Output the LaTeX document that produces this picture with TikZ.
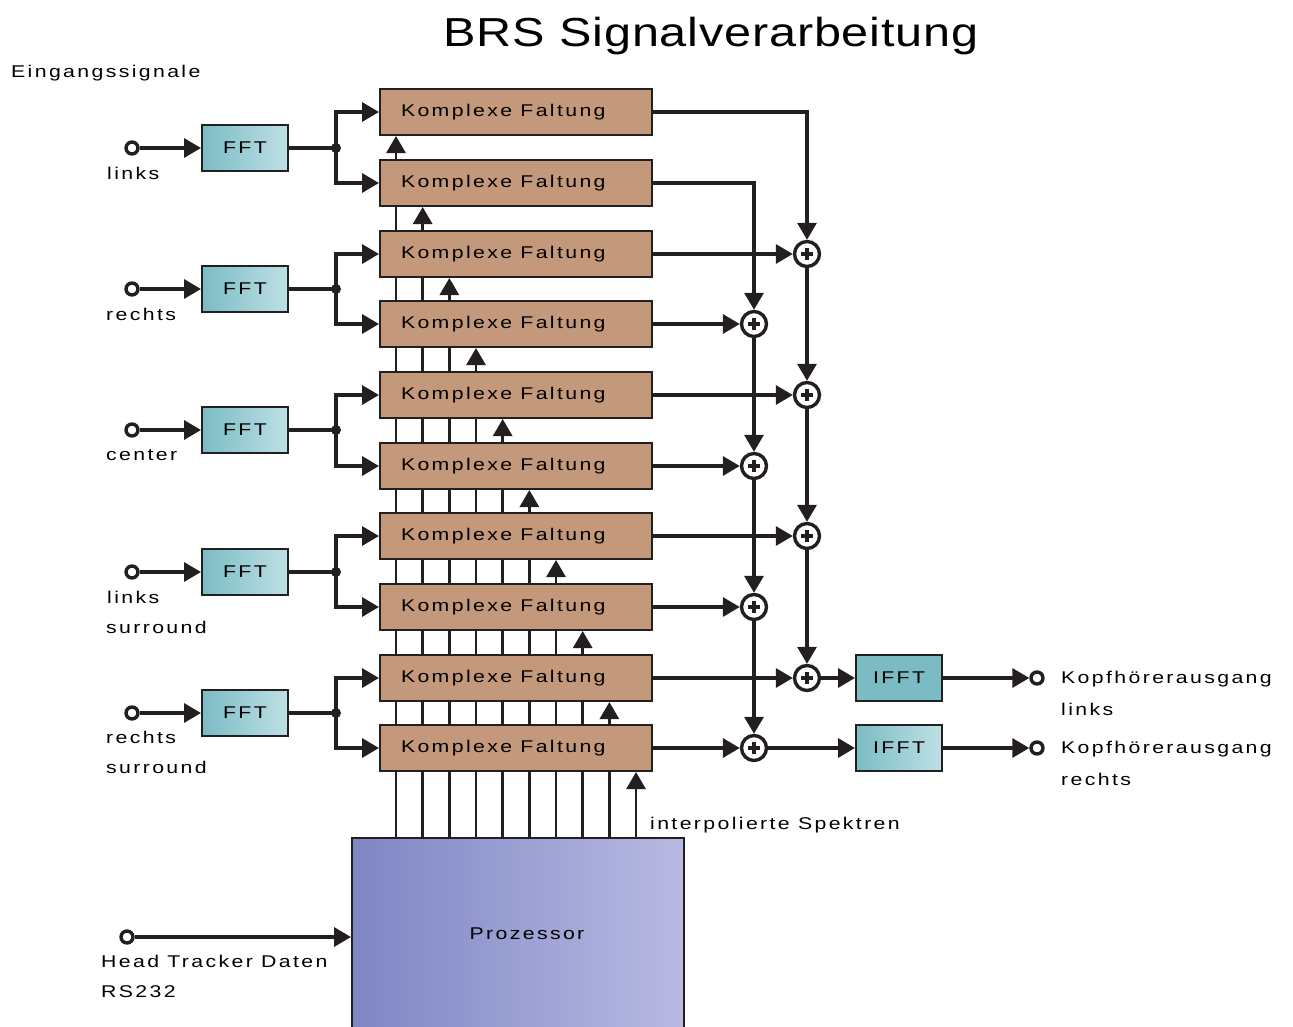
\documentclass[tikz,border=0pt]{standalone}
\usepackage{fontspec}
\setmainfont{Liberation Sans}
\newfontfamily\labfont[FakeStretch=1.25,LetterSpace=14]{Liberation Sans}
\newfontfamily\titlefont[FakeStretch=1.2,LetterSpace=2]{Liberation Sans}
\usetikzlibrary{arrows.meta,calc}
\definecolor{kfcol}{HTML}{C4987A}
\definecolor{tealL}{HTML}{7BBCC4}
\definecolor{tealR}{HTML}{BEE0E5}
\definecolor{procL}{HTML}{7E86C4}
\definecolor{procR}{HTML}{B8BAE2}
\definecolor{ink}{HTML}{231F20}
\pgfdeclarelayer{bg}
\pgfsetlayers{bg,main}
\begin{document}
\begin{tikzpicture}[x=1pt,y=-1pt,
  wire/.style={draw=ink,line width=3.4pt},
  arr/.style={wire,-{Triangle[length=17pt,width=19pt]}},
  kf/.style={draw=ink,line width=2pt,fill=kfcol,rectangle,
    inner xsep=21pt,inner ysep=0pt,
    minimum height=46pt,font=\labfont\fontsize{17}{20}\selectfont},
  fftbox/.style={draw=ink,line width=2pt,rectangle,left color=tealL,right color=tealR,
    minimum width=86pt,minimum height=46pt,inner sep=0pt,
    font=\labfont\fontsize{17}{20}\selectfont},
  port/.style={circle,draw=ink,line width=3.4pt,fill=white,minimum size=12pt,inner sep=0pt},
  dot/.style={circle,fill=ink,minimum size=10pt,inner sep=0pt},
  adder/.style={circle,draw=ink,line width=3.4pt,fill=white,minimum size=25pt,inner sep=0pt,
    path picture={\draw[ink,line width=3.4pt]
      ($(path picture bounding box.center)+(-6,0)$) -- ++(12,0)
      ($(path picture bounding box.center)+(0,-6)$) -- ++(0,12);}},
  lab/.style={anchor=west,inner sep=0pt,yshift=-1.5pt,font=\labfont\fontsize{17}{20}\selectfont}
]
\useasboundingbox (0,0) rectangle (1293,1026);

% title
\node[font=\titlefont\fontsize{40.5}{44}\selectfont,inner sep=0pt] (title) at (711,36) {BRS Signalverarbeitung};
\node[lab] (eing) at (11,72) {Eingangssignale};

% convolution blocks
\foreach \i/\y in {1/112,2/183,3/254,4/324,5/395,6/466,7/536,8/607,9/678,10/748}
  \node[kf] (kf\i) at (516,\y) {\raisebox{-1.5pt}{\makebox[230pt][l]{Komplexe Faltung}}};

% processor
\node[rectangle,draw=ink,line width=2pt,left color=procL,right color=procR,
  minimum width=332pt,minimum height=192pt,inner sep=0pt,
  font=\labfont\fontsize{17}{20}\selectfont] (proc) at (518,934) {\hspace*{18pt}Prozessor};

% interpolated spectra lines (behind the blocks)
\begin{pgfonlayer}{bg}
\foreach \i in {1,...,10} {
  \pgfmathsetmacro\xx{396+(\i-1)*26.67}
  \coordinate (p\i) at (\xx,838);
  \draw[arr,line width=2.8pt] (p\i) -- (p\i |- kf\i.south);
}
\end{pgfonlayer}
\node[lab] (interp) at (650,824) {interpolierte Spektren};

% inputs
\foreach \i/\y/\a/\b in {1/148/1/2,2/289/3/4,3/430/5/6,4/572/7/8,5/713/9/10} {
  \node[fftbox] (fft\i) at (245,\y) {FFT};
  \node[port] (in\i) at (132,\y) {};
  \node[dot] (jn\i) at (336,\y) {};
  \draw[arr] (in\i) -- (fft\i);
  \draw[wire] (fft\i) -- (jn\i.center);
  \draw[arr] (jn\i.center) |- (kf\a.west);
  \draw[arr] (jn\i.center) |- (kf\b.west);
}
\node[lab] (t1) at (107,172) {links};
\node[lab] (t2) at (106,313) {rechts};
\node[lab] (t3) at (106,454) {center};
\node[lab] (t4a) at (107,596) {links};
\node[lab] (t4b) at (106,626) {surround};
\node[lab] (t5a) at (106,736) {rechts};
\node[lab] (t5b) at (106,766) {surround};

% adders
\node[adder] (a1) at (754,324) {};
\node[adder] (a2) at (754,466) {};
\node[adder] (a3) at (754,607) {};
\node[adder] (a4) at (754,748) {};
\node[adder] (b1) at (807,254) {};
\node[adder] (b2) at (807,395) {};
\node[adder] (b3) at (807,536) {};
\node[adder] (b4) at (807,678) {};

\draw[arr] (kf1.east) -| (b1);
\draw[arr] (kf2.east) -| (a1);
\draw[arr] (kf3.east) -- (b1);
\draw[arr] (kf4.east) -- (a1);
\draw[arr] (kf5.east) -- (b2);
\draw[arr] (kf6.east) -- (a2);
\draw[arr] (kf7.east) -- (b3);
\draw[arr] (kf8.east) -- (a3);
\draw[arr] (kf9.east) -- (b4);
\draw[arr] (kf10.east) -- (a4);
\draw[arr] (b1) -- (b2);
\draw[arr] (b2) -- (b3);
\draw[arr] (b3) -- (b4);
\draw[arr] (a1) -- (a2);
\draw[arr] (a2) -- (a3);
\draw[arr] (a3) -- (a4);

% outputs
\node[fftbox,left color=tealL,right color=tealL] (ifft1) at (899,678) {IFFT};
\node[fftbox] (ifft2) at (899,748) {IFFT};
\node[port] (out1) at (1037,678) {};
\node[port] (out2) at (1037,748) {};
\draw[arr] (b4) -- (ifft1);
\draw[arr] (a4) -- (ifft2);
\draw[arr] (ifft1) -- (out1);
\draw[arr] (ifft2) -- (out2);
\node[lab] (o1a) at (1061,678) {Kopfhörerausgang};
\node[lab] (o1b) at (1061,708) {links};
\node[lab] (o2a) at (1061,748) {Kopfhörerausgang};
\node[lab] (o2b) at (1061,778) {rechts};

% head tracker
\node[port] (ht) at (127,937) {};
\draw[arr] (ht) -- (ht -| proc.west);
\node[lab] (h1) at (101,960) {Head Tracker Daten};
\node[lab] (h2) at (101,990) {RS232};
\end{tikzpicture}
\end{document}
